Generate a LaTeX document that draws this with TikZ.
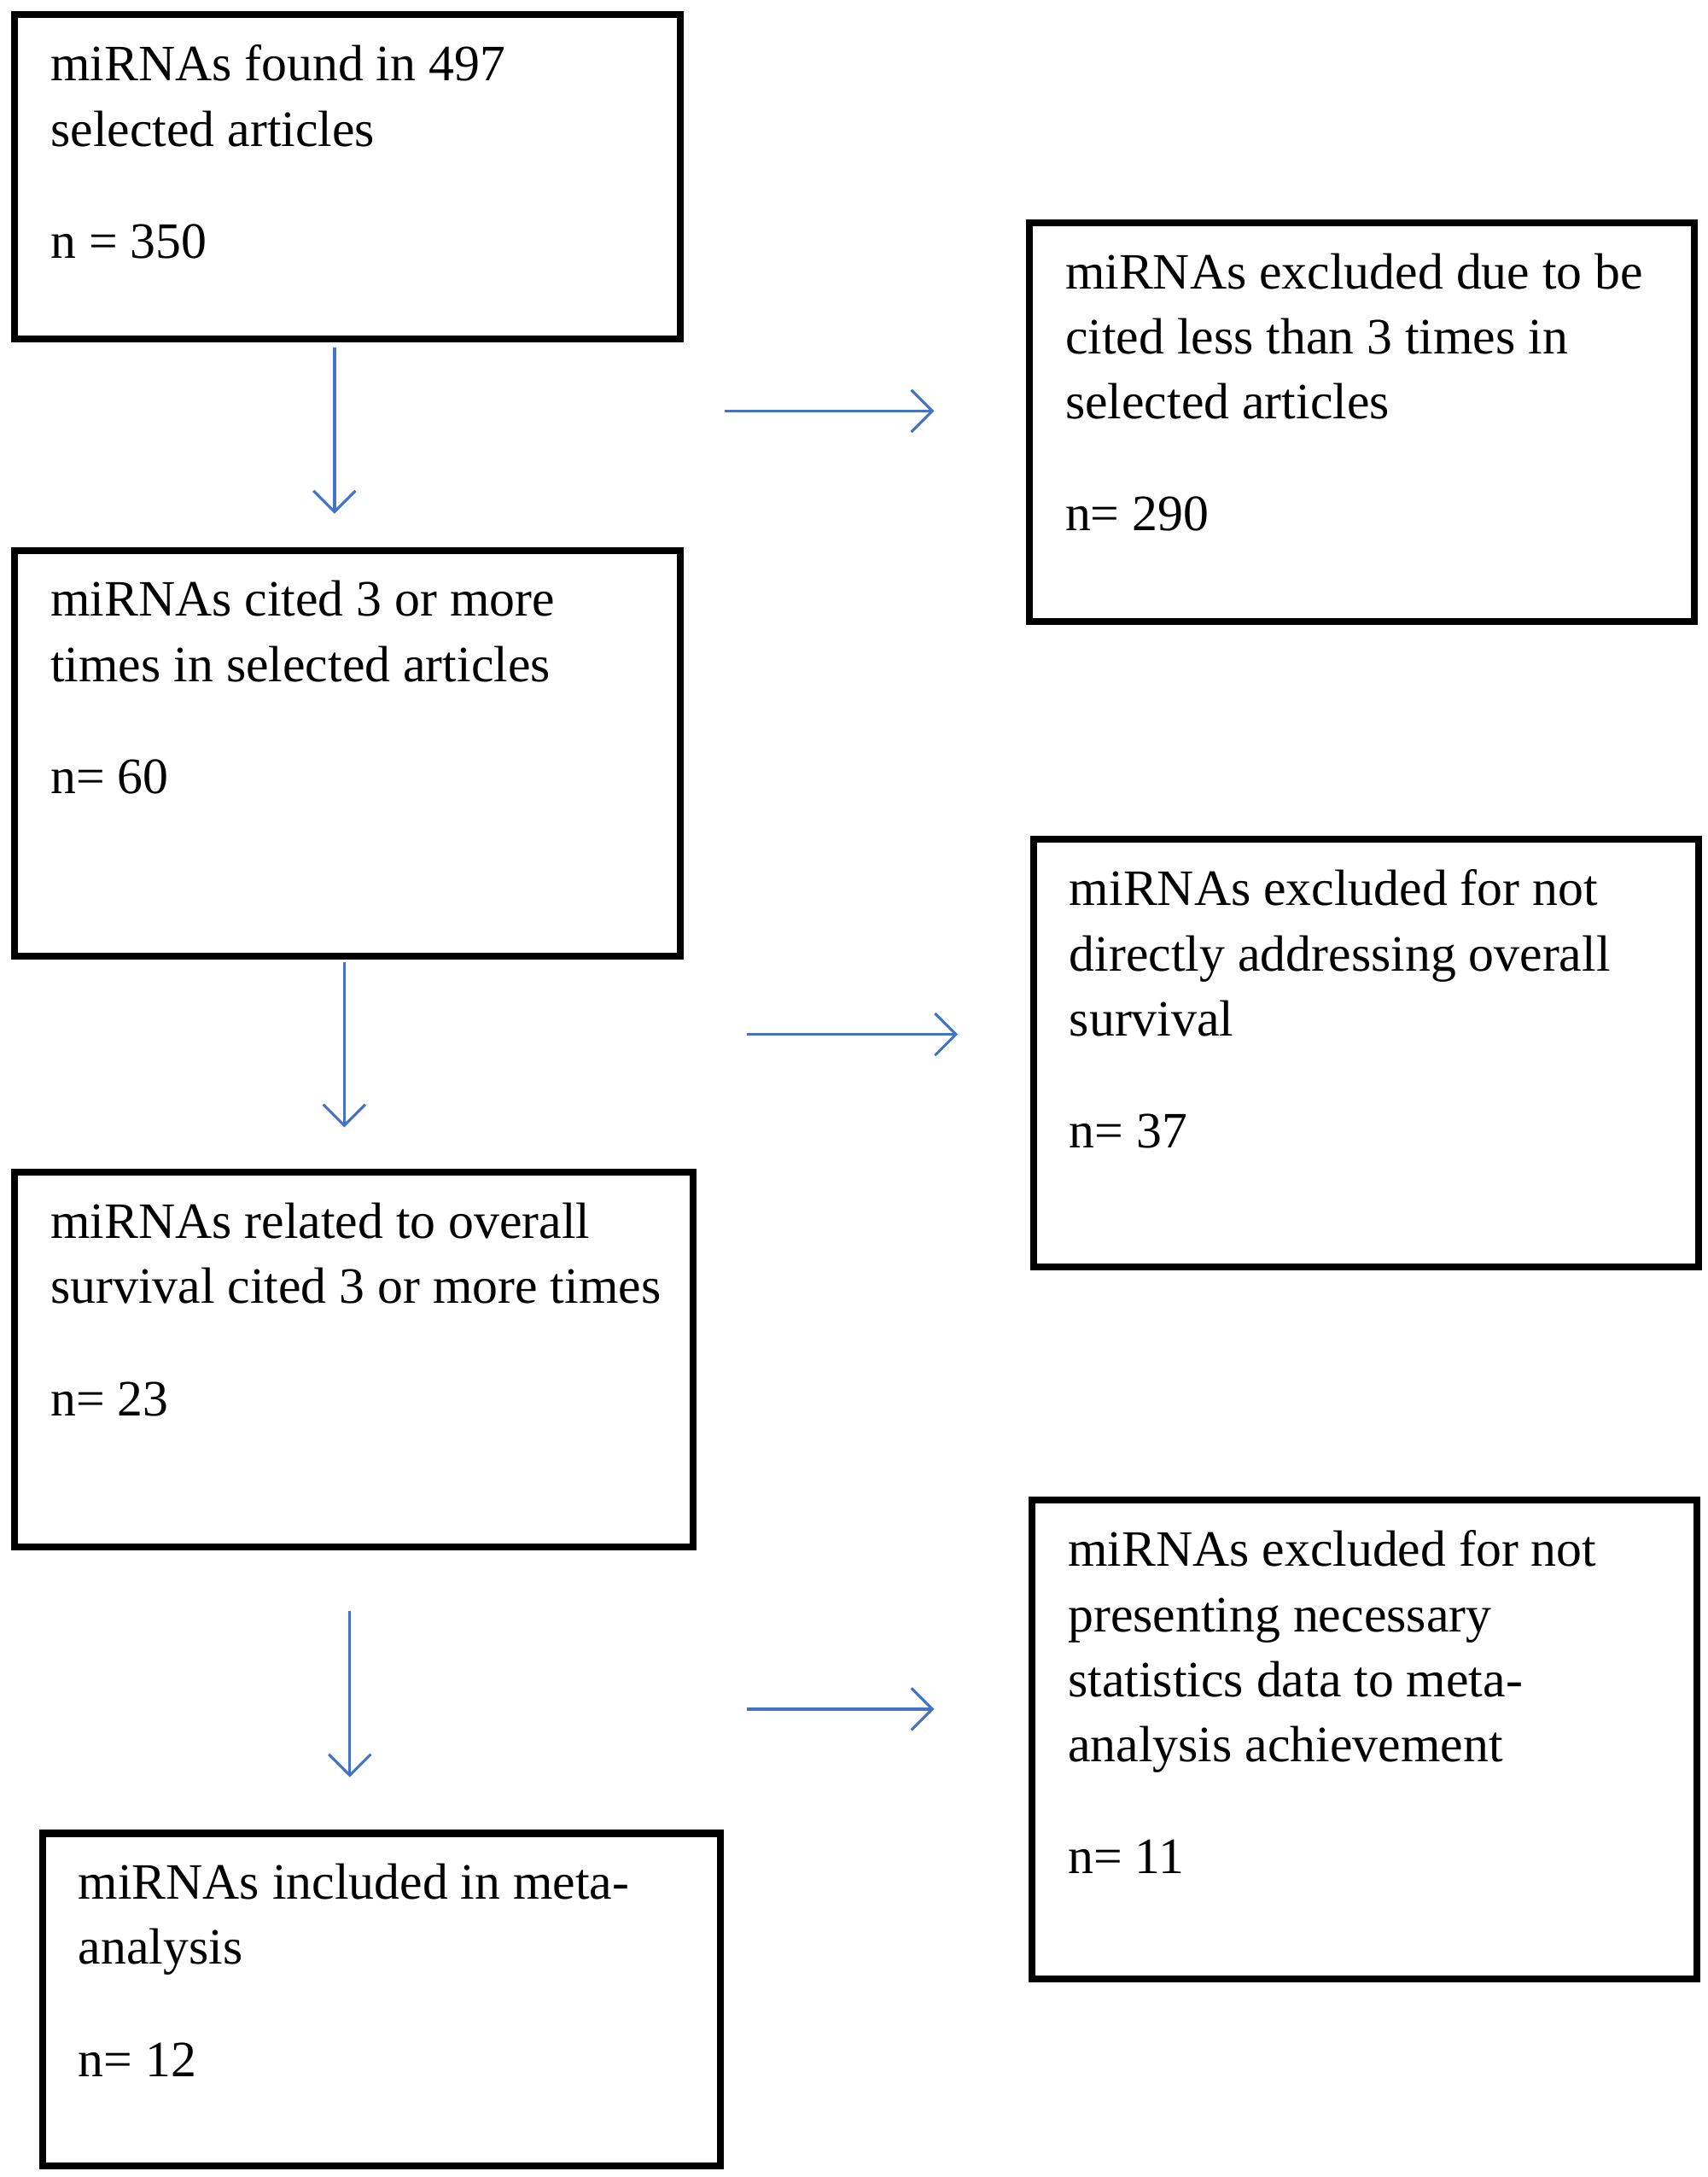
\documentclass[tikz,border=0pt]{standalone}
\usepackage{fontspec}
\setmainfont{Liberation Serif}
\usetikzlibrary{arrows.meta}
\definecolor{arrowblue}{RGB}{68,114,196}
\tikzset{
box/.style={draw, line width=2.3pt, anchor=north west, inner sep=0pt},
txt/.style={anchor=north west, align=left, inner sep=0pt, font=\fontsize{17}{21.7}\selectfont},
flow/.style={draw=arrowblue, line width=0.9pt, -{Straight Barb[length=7pt,width=14pt]}}}
\begin{document}
\begin{tikzpicture}[x=0.01626cm, y=-0.01626cm]
    \useasboundingbox (0,0) rectangle (1230,1568);

                \node[box, minimum width=7.80cm, minimum height=3.80cm] (found) at (8,8) {};
                \node[box, minimum width=7.80cm, minimum height=4.75cm] (cited) at (8,394) {};
                \node[box, minimum width=7.95cm, minimum height=4.39cm] (related) at (8,842) {};
                \node[box, minimum width=7.95cm, minimum height=3.90cm] (included) at (28,1318) {};
                \node[box, minimum width=7.79cm, minimum height=4.67cm] (excl1) at (739,158) {};
                \node[box, minimum width=7.79cm, minimum height=5.01cm] (excl2) at (742,602) {};
                \node[box, minimum width=7.79cm, minimum height=5.61cm] (excl3) at (741,1078) {};

                \node[txt] at ([shift={(28,24)}]found.north west) {miRNAs found in 497\\selected articles\\[0.55cm]n = 350};
                \node[txt] at ([shift={(28,24)}]cited.north west) {miRNAs cited 3 or more\\times in selected articles\\[0.55cm]n= 60};
                \node[txt] at ([shift={(28,24)}]related.north west) {miRNAs related to overall\\survival cited 3 or more times\\[0.55cm]n= 23};
                \node[txt] at ([shift={(28,24)}]included.north west) {miRNAs included in meta-\\analysis\\[0.55cm]n= 12};
                \node[txt] at ([shift={(28,24)}]excl1.north west) {miRNAs excluded due to be\\cited less than 3 times in\\selected articles\\[0.55cm]n= 290};
                \node[txt] at ([shift={(28,24)}]excl2.north west) {miRNAs excluded for not\\directly addressing overall\\survival\\[0.55cm]n= 37};
                \node[txt] at ([shift={(28,24)}]excl3.north west) {miRNAs excluded for not\\presenting necessary\\statistics data to meta-\\analysis achievement\\[0.55cm]n= 11};

                \coordinate (d1s) at (241,250);  \coordinate (d1e) at (241,370);
                \coordinate (d2s) at (248,693);  \coordinate (d2e) at (248,812);
                \coordinate (d3s) at (252,1160); \coordinate (d3e) at (252,1280);
                \coordinate (r1s) at (522,296);  \coordinate (r1e) at (673,296);
                \coordinate (r2s) at (538,745);  \coordinate (r2e) at (690,745);
                \coordinate (r3s) at (538,1231); \coordinate (r3e) at (673,1231);

                \draw[flow] (d1s) -- (d1e);
                \draw[flow] (d2s) -- (d2e);
                \draw[flow] (d3s) -- (d3e);
                \draw[flow] (r1s) -- (r1e);
                \draw[flow] (r2s) -- (r2e);
                \draw[flow] (r3s) -- (r3e);

            \end{tikzpicture}
\end{document}
